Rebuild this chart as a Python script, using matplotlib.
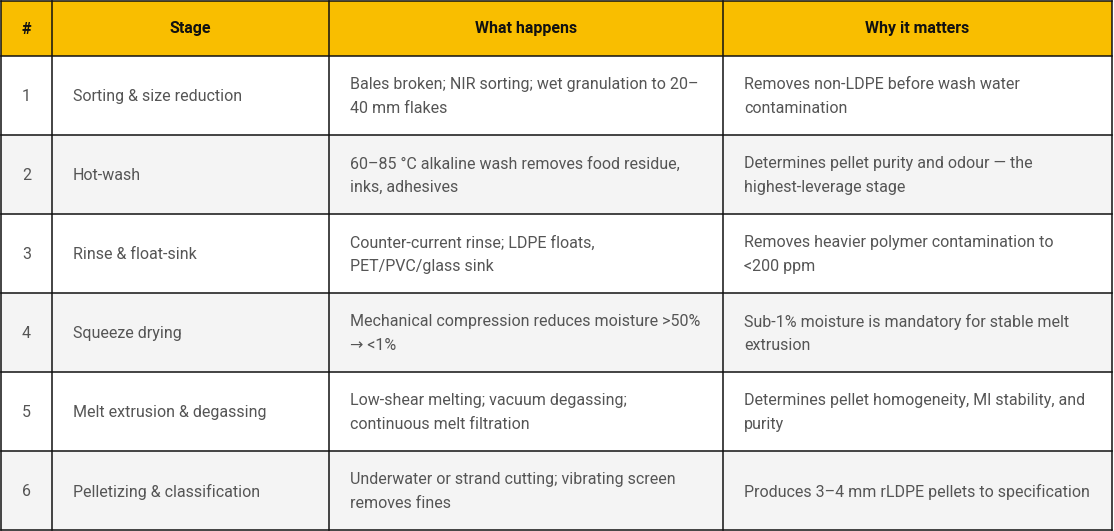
import matplotlib
matplotlib.use("Agg")
import matplotlib.pyplot as plt
from matplotlib.patches import Rectangle

plt.rcParams["font.family"] = ["Roboto", "DejaVu Sans"]

headers = ["#", "Stage", "What happens", "Why it matters"]
numbers = ["1", "2", "3", "4", "5", "6"]
stages = [
    "Sorting & size reduction",
    "Hot-wash",
    "Rinse & float-sink",
    "Squeeze drying",
    "Melt extrusion & degassing",
    "Pelletizing & classification",
]
what_happens = [
    "Bales broken; NIR sorting; wet granulation to 20\u2013\n40 mm flakes",
    "60\u201385 \u00b0C alkaline wash removes food residue,\ninks, adhesives",
    "Counter-current rinse; LDPE floats,\nPET/PVC/glass sink",
    "Mechanical compression reduces moisture >50%\n\u2192 <1%",
    "Low-shear melting; vacuum degassing;\ncontinuous melt filtration",
    "Underwater or strand cutting; vibrating screen\nremoves fines",
]
why_matters = [
    "Removes non-LDPE before wash water\ncontamination",
    "Determines pellet purity and odour \u2014 the\nhighest-leverage stage",
    "Removes heavier polymer contamination to\n<200 ppm",
    "Sub-1% moisture is mandatory for stable melt\nextrusion",
    "Determines pellet homogeneity, MI stability, and\npurity",
    "Produces 3\u20134 mm rLDPE pellets to specification",
]

W, H = 1114, 531
col_edges = [1, 52, 329, 723, 1112]
header_h = 56
row_h = 79
pad = 21

HEADER_BG = "#F9BE00"
ALT_BG = "#F4F4F4"
TEXT = "#555555"
LINE = "#111111"
FS = 11.5

fig = plt.figure(figsize=(W / 100, H / 100), dpi=100)
ax = fig.add_axes([0, 0, 1, 1])
ax.set_xlim(0, W)
ax.set_ylim(H, 0)
ax.axis("off")

# header
ax.add_patch(Rectangle((col_edges[0], 0.5), col_edges[-1] - col_edges[0], header_h,
                       facecolor=HEADER_BG, edgecolor="none"))
for i, h in enumerate(headers):
    cx = (col_edges[i] + col_edges[i + 1]) / 2
    ax.text(cx, header_h / 2 + 1, h, ha="center", va="center",
            fontsize=FS, fontweight="bold", color="#111111")

# body rows
rows = list(zip(numbers, stages, what_happens, why_matters))
for r, cells in enumerate(rows):
    top = header_h + r * row_h
    bg = ALT_BG if r % 2 == 1 else "white"
    ax.add_patch(Rectangle((col_edges[0], top), col_edges[-1] - col_edges[0], row_h,
                           facecolor=bg, edgecolor="none"))
    cy = top + row_h / 2 + 1
    for c, txt in enumerate(cells):
        if c == 0:
            ax.text((col_edges[0] + col_edges[1]) / 2, cy, txt, ha="center",
                    va="center", fontsize=FS, color=TEXT)
        else:
            ax.text(col_edges[c] + pad, cy, txt, ha="left", va="center",
                    fontsize=FS, color=TEXT, linespacing=1.7)

# grid lines
n_rows = len(rows)
bottom = header_h + n_rows * row_h
for x in col_edges:
    ax.plot([x, x], [0.5, bottom], color=LINE, lw=1.1, solid_capstyle="projecting")
ys = [0.5, header_h] + [header_h + (r + 1) * row_h for r in range(n_rows)]
for y in ys:
    ax.plot([col_edges[0], col_edges[-1]], [y, y], color=LINE, lw=1.1,
            solid_capstyle="projecting")

fig.savefig("out.png", dpi=100)
